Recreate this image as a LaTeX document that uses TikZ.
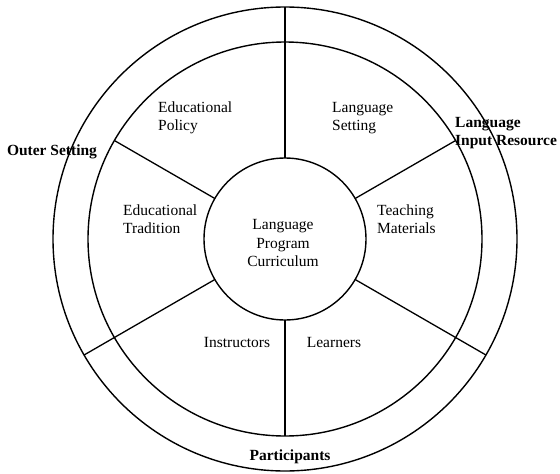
\documentclass[tikz,border=0pt]{standalone}
\usepackage{fontspec}
\setmainfont{Liberation Serif}
\begin{document}
\begin{tikzpicture}[x=1pt,y=-1pt,
  ring/.style={circle,draw,line width=1.4pt,inner sep=0pt,outer sep=0pt,minimum size=#1},
  spoke/.style={line width=1.3pt},
  sector/.style={font=\fontsize{15.5}{18.5}\selectfont,align=left,inner sep=0pt},
  band/.style={font=\fontsize{15.5}{18.5}\selectfont\bfseries,align=left,inner sep=0pt}]
\useasboundingbox (0,0) rectangle (560,474);
\coordinate (c) at (285,239);

% three concentric rings
\node[ring=464pt] (outer) at (c) {};
\node[ring=394pt] (middle) at (c) {};
\node[ring=162pt] (core) at (c) {};

% spokes dividing the sectors
\draw[spoke] (core.90)  -- (outer.90);
\draw[spoke] (core.210) -- (outer.210);
\draw[spoke] (core.330) -- (outer.330);
\draw[spoke] (core.30)  -- (middle.30);
\draw[spoke] (core.150) -- (middle.150);
\draw[spoke] (core.270) -- (middle.270);

% centre
\node[sector,align=center] (curr) at (283,243) {Language\\Program\\Curriculum};

% sectors of the middle ring
\node[sector,anchor=west] (policy) at (158,118) {Educational\\Policy};
\node[sector,anchor=west] (lsetting) at (332,118) {Language\\Setting};
\node[sector,anchor=west] (tradition) at (123,219) {Educational\\Tradition};
\node[sector,anchor=west] (materials) at (377,219) {Teaching\\Materials};
\node[sector] (instructors) at (237,342) {Instructors};
\node[sector] (learners) at (334,342) {Learners};

% labels of the outer band
\node[band] (outerset) at (52,152) {Outer Setting};
\node[band,anchor=west] (input) at (455,133) {Language\\Input Resource};
\node[band] (participants) at (290,457) {Participants};
\end{tikzpicture}
\end{document}
